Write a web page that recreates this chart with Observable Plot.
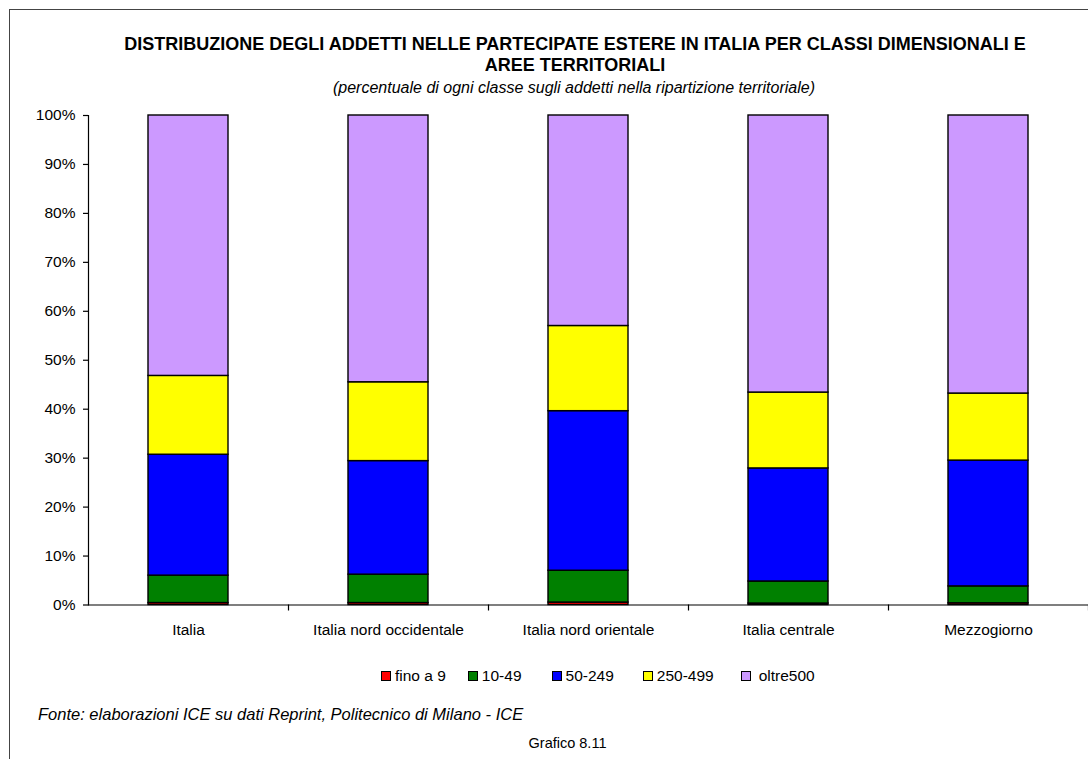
<!DOCTYPE html>
<html>
<head>
<meta charset="utf-8">
<script src="https://cdn.jsdelivr.net/npm/d3@7"></script>
<script src="https://cdn.jsdelivr.net/npm/@observablehq/plot@0.6"></script>
<style>
  html, body { margin: 0; padding: 0; background: #fff; }
  body { width: 1088px; height: 759px; position: relative; overflow: hidden; font-family: "Liberation Sans", Arial, sans-serif; color: #000; }
  #frame { position: absolute; left: 9px; top: 9px; width: 1100px; height: 800px; border-left: 1px solid #444; border-top: 1px solid #444; }
  .t { position: absolute; white-space: nowrap; line-height: 1; }
  #title1 { top: 35px; left: 0; width: 1150px; text-align: center; font-weight: bold; font-size: 18px; }
  #title2 { top: 56px; left: 0; width: 1150px; text-align: center; font-weight: bold; font-size: 18px; }
  #subtitle { top: 80px; left: 0; width: 1148px; text-align: center; font-style: italic; font-size: 16px; }
  #chart { position: absolute; left: 0; top: 0; }
  #legend { position: absolute; top: 668px; left: 381px; font-size: 15.5px; line-height: 1; display: flex; }
  #legend .item { display: flex; align-items: center; }
  #legend .sw { width: 8px; height: 8px; border: 1px solid #000; margin-right: 4px; }
  #source { top: 706px; left: 38px; font-style: italic; font-size: 16.5px; }
  #grafico { top: 736px; left: 0; width: 1135px; text-align: center; font-size: 14.5px; }
</style>
</head>
<body>
<div id="frame"></div>
<div class="t" id="title1">DISTRIBUZIONE DEGLI ADDETTI NELLE PARTECIPATE ESTERE IN ITALIA PER CLASSI DIMENSIONALI E</div>
<div class="t" id="title2">AREE TERRITORIALI</div>
<div class="t" id="subtitle">(percentuale di ogni classe sugli addetti nella ripartizione territoriale)</div>
<div id="chart"></div>
<div id="legend"></div>
<div class="t" id="source">Fonte: elaborazioni ICE su dati Reprint, Politecnico di Milano - ICE</div>
<div class="t" id="grafico">Grafico 8.11</div>
<script>
const regions = ["Italia", "Italia nord occidentale", "Italia nord orientale", "Italia centrale", "Mezzogiorno"];
const classes = ["fino a 9", "10-49", "50-249", "250-499", "oltre500"];
const colors = ["#ff0000", "#008000", "#0000ff", "#ffff00", "#cc99ff"];
// percentages per class for each region
const fino9    = [0.4, 0.4, 0.5, 0.3, 0.35];
const c10_49   = [5.6, 5.8, 6.5, 4.5, 3.45];
const c50_249  = [24.7, 23.2, 32.6, 23.1, 25.7];
const c250_499 = [16.1, 16.1, 17.4, 15.5, 13.7];
const oltre500 = [53.2, 54.5, 43.0, 56.6, 56.8];
const yTicks = [0, 0.1, 0.2, 0.3, 0.4, 0.5, 0.6, 0.7, 0.8, 0.9, 1];

const series = [fino9, c10_49, c50_249, c250_499, oltre500];
const data = [];
classes.forEach((c, i) => regions.forEach((r, j) => data.push({region: r, cls: c, value: series[i][j] / 100})));

const W = 1088, mL = 88, mR = 0;
const step = (W - mL - mR) / regions.length;

const chart = Plot.plot({
  width: W,
  height: 650,
  marginTop: 115,
  marginBottom: 45.5,
  marginLeft: mL,
  marginRight: mR,
  style: {fontFamily: "'Liberation Sans', Arial, sans-serif", fontSize: "15.5px", color: "#000", background: "transparent"},
  x: {domain: regions, paddingInner: 0.6, paddingOuter: 0.3, label: null},
  y: {domain: [0, 1], label: null},
  color: {domain: classes, range: colors},
  marks: [
    Plot.barY(data, Plot.stackY({order: null}, {x: "region", y: "value", z: "cls", fill: "cls", stroke: "#000", strokeWidth: 1.4})),
    Plot.axisY({ticks: yTicks, tickFormat: d3.format(".0%"), tickSize: 5, tickPadding: 8, fontSize: 15.5, stroke: "#000", strokeWidth: 1.2}),
    Plot.axisX({tickSize: 0, tickPadding: 19, fontSize: 15.5}),
    Plot.axisX({tickSize: 6, tickFormat: () => "", dx: step / 2, stroke: "#000", strokeWidth: 1.2}),
    Plot.frame({anchor: "left", stroke: "#000", strokeWidth: 1.2}),
    Plot.ruleY([0], {stroke: "#000", strokeWidth: 1.2})
  ]
});
document.getElementById("chart").appendChild(chart);

const lg = document.getElementById("legend");
const gaps = [22, 30, 29, 27, 0];
classes.forEach((c, i) => {
  const it = document.createElement("div");
  it.className = "item";
  it.style.marginRight = gaps[i] + "px";
  const sw = document.createElement("div");
  sw.className = "sw";
  sw.style.background = colors[i];
  if (i === 4) sw.style.marginRight = "8px";
  const tx = document.createElement("span");
  tx.textContent = c;
  it.appendChild(sw); it.appendChild(tx);
  lg.appendChild(it);
});
</script>
</body>
</html>
